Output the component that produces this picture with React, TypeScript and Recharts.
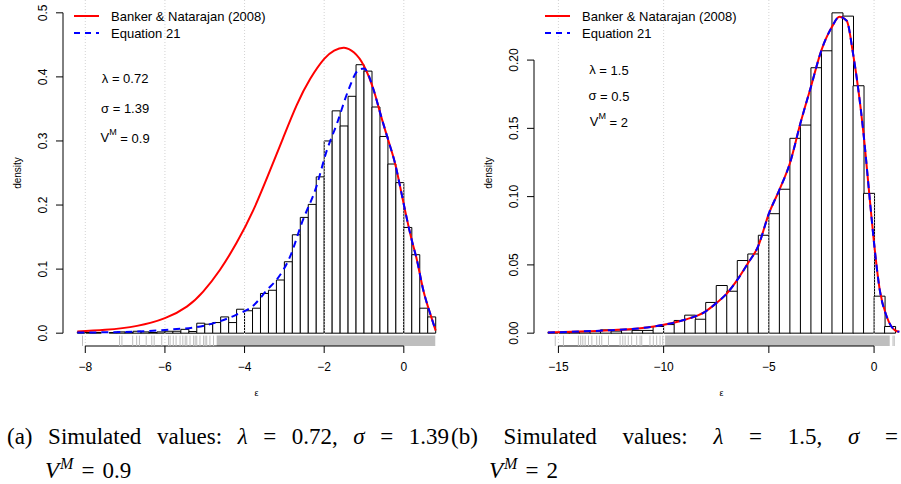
import React from 'react';
import {
  ComposedChart,
  Bar,
  Line,
  Scatter,
  XAxis,
  YAxis,
  CartesianGrid,
  ReferenceLine,
  ReferenceArea,
  ReferenceDot,
} from 'recharts';

const FONT = '"Liberation Sans", Arial, Helvetica, sans-serif';
const SERIF = '"Liberation Serif", "Times New Roman", serif';

// ---- panel (a): lambda 0.72, sigma 1.39, V^M 0.9 ----
const LEFT_BIN_MIDS = [
  -8.1, -7.9, -7.7, -7.5, -7.3, -7.1, -6.9, -6.7, -6.5, -6.3, -6.1, -5.9, -5.7,
  -5.5, -5.3, -5.1, -4.9, -4.7, -4.5, -4.3, -4.1, -3.9, -3.7, -3.5, -3.3, -3.1,
  -2.9, -2.7, -2.5, -2.3, -2.1, -1.9, -1.7, -1.5, -1.3, -1.1, -0.9, -0.7, -0.5,
  -0.3, -0.1, 0.1, 0.3, 0.5, 0.7,
];
const LEFT_DENSITY = [
  0.002, 0.001, 0.001, 0.0, 0.001, 0.002, 0.001, 0.003, 0.002, 0.001, 0.002, 0.003, 0.003,
  0.006, 0.0026, 0.0156, 0.014, 0.0166, 0.0254, 0.0166, 0.0374, 0.035,
  0.039, 0.062, 0.067, 0.083, 0.1115, 0.1536, 0.1807, 0.201, 0.244, 0.3,
  0.347, 0.3234, 0.3697, 0.419, 0.409, 0.353, 0.307, 0.264, 0.235, 0.165,
  0.1225, 0.039, 0.0254,
];
// Banker & Natarajan (2008)
const LEFT_RED_X = [
  -8.2, -7.5, -6.7, -6.0, -5.45, -5.04, -4.62, -4.2, -3.78, -3.36, -3.03, -2.69, -2.35,
  -2.0, -1.75, -1.5, -1.25, -1.0, -0.76, -0.6, -0.39, -0.22, -0.09, 0.03, 0.2, 0.33, 0.49, 0.66, 0.8,
];
const LEFT_RED_Y = [
  0.0026, 0.0052, 0.0114, 0.0234, 0.0415, 0.065, 0.0987, 0.141, 0.192, 0.254, 0.305, 0.356, 0.397,
  0.428, 0.441, 0.4455, 0.438, 0.417, 0.38, 0.345, 0.301, 0.265, 0.228, 0.192, 0.145, 0.114, 0.067, 0.031, 0.004,
];
// Equation 21
const LEFT_BLUE_X = [
  -8.2, -7.0, -6.0, -5.0, -4.2, -3.8, -3.4, -3.2, -2.86, -2.55, -2.2, -1.93, -1.68, -1.4,
  -1.15, -1.0, -0.76, -0.6, -0.39, -0.22, -0.09, 0.03, 0.2, 0.33, 0.49, 0.66, 0.8,
];
const LEFT_BLUE_Y = [
  0.001, 0.002, 0.005, 0.012, 0.029, 0.042, 0.07, 0.083, 0.119, 0.174, 0.228, 0.286, 0.327, 0.378,
  0.41, 0.413, 0.38, 0.345, 0.301, 0.265, 0.228, 0.192, 0.145, 0.114, 0.067, 0.031, 0.004,
];
const LEFT_RUG = [
  -8.07, -7.14, -7.08, -6.81, -6.71, -6.64, -6.47, -6.33, -6.27, -6.08, -5.91, -5.87, -5.79,
  -5.72, -5.62, -5.55, -5.49, -5.45, -5.37, -5.28, -5.24, -5.2, -5.12, -5.03, -4.99, -4.95,
  -4.87, -4.78,
];
const LEFT_RUG_DENSE = [-4.7, 0.79];
const LEFT_X_TICKS = [-8, -6, -4, -2, 0];
const LEFT_Y_TICKS = [0, 0.1, 0.2, 0.3, 0.4, 0.5];
const LEFT_Y_LABELS = ['0.0', '0.1', '0.2', '0.3', '0.4', '0.5'];
const LEFT_PARAMS = [
  { sym: 'λ', sup: '', val: '0.72', y: 0.398 },
  { sym: 'σ', sup: '', val: '1.39', y: 0.351 },
  { sym: 'V', sup: 'M', val: '0.9', y: 0.305 },
];

// ---- panel (b): lambda 1.5, sigma 0.5, V^M 2 ----
const RIGHT_BIN_MIDS = [
  -15.25, -14.75, -14.25, -13.75, -13.25, -12.75, -12.25, -11.75, -11.25, -10.75, -10.25,
  -9.75, -9.25, -8.75, -8.25, -7.75, -7.25, -6.75, -6.25, -5.75, -5.25, -4.75, -4.25,
  -3.75, -3.25, -2.75, -2.25, -1.75, -1.25, -0.75, -0.25, 0.25, 0.75,
];
const RIGHT_DENSITY = [
  0.0005, 0.0005, 0.0005, 0.001, 0.0012, 0.0024, 0.0015, 0.0024, 0.002, 0.002, 0.0049,
  0.0063, 0.0093, 0.0132, 0.0102, 0.0225, 0.0349, 0.0307, 0.0532, 0.058, 0.0717, 0.0875, 0.1054,
  0.1427, 0.1524, 0.1944, 0.2068, 0.2346, 0.2322, 0.1812, 0.1024, 0.0271, 0.0049,
];
const RIGHT_RED_X = [
  -15.5, -14, -12.5, -11, -10, -9, -8, -7.5, -7, -6.5, -6, -5.5, -5, -4.5, -4, -3.5, -3,
  -2.5, -2, -1.65, -1.3, -1, -0.5, -0.2, 0, 0.27, 0.6, 1.0, 1.2,
];
const RIGHT_RED_Y = [
  0.0005, 0.0012, 0.0022, 0.0038, 0.0061, 0.0098, 0.016, 0.022, 0.029, 0.039, 0.051, 0.064,
  0.0875, 0.105, 0.1244, 0.1537, 0.1805, 0.2073, 0.2244, 0.2317, 0.2288, 0.2049, 0.146,
  0.0975, 0.0659, 0.0317, 0.0122, 0.002, 0.001,
];
const RIGHT_BLUE_X = [
  -15.5, -14, -12.5, -11, -10, -9, -8, -7.5, -7, -6.5, -6, -5.5, -5, -4.5, -4, -3.5, -3,
  -2.5, -2, -1.65, -1.3, -1, -0.5, -0.2, 0, 0.27, 0.6, 1.0, 1.2,
];
const RIGHT_BLUE_Y = [
  0.0005, 0.0012, 0.0022, 0.0038, 0.0061, 0.0098, 0.016, 0.022, 0.029, 0.039, 0.051, 0.064,
  0.0875, 0.105, 0.1244, 0.1537, 0.1805, 0.2073, 0.2244, 0.2317, 0.2288, 0.2049, 0.146,
  0.0975, 0.0659, 0.0317, 0.0122, 0.002, 0.001,
];
const RIGHT_RUG = [
  -15.15, -14.76, -14.05, -13.94, -13.84, -13.73, -13.57, -13.41, -13.18, -13.05, -12.94,
  -12.62, -12.07, -11.94, -11.83, -11.68, -11.52, -11.28, -11.12, -11.04, -10.65, -10.49,
  -10.33, -10.17, -10.04, 0.9, 0.96,
];
const RIGHT_RUG_DENSE = [-9.93, 0.745];
const RIGHT_X_TICKS = [-15, -10, -5, 0];
const RIGHT_Y_TICKS = [0, 0.05, 0.1, 0.15, 0.2];
const RIGHT_Y_LABELS = ['0.00', '0.05', '0.10', '0.15', '0.20'];
const RIGHT_PARAMS = [
  { sym: 'λ', sup: '', val: '1.5', y: 0.193 },
  { sym: 'σ', sup: '', val: '0.5', y: 0.174 },
  { sym: 'V', sup: 'M', val: '2', y: 0.155 },
];

const LEGEND = ['Banker & Natarajan (2008)', 'Equation 21'];

// chart geometry
const H = 400;
const XH = 54;
const PLOT_H = H - XH;
const RUG_FRAC = 0.03;
const GRID = '#d3d3d3';
const RUG = '#bebebe';

const panels = [
  {
    key: 'a',
    left: 0,
    w: 460,
    yw: 63,
    mr: 10,
    xDomain: [-8.56, 1.16],
    yDomain: [-0.02, 0.52],
    mids: LEFT_BIN_MIDS,
    density: LEFT_DENSITY,
    redX: LEFT_RED_X,
    redY: LEFT_RED_Y,
    redCurve: 'natural',
    blueX: LEFT_BLUE_X,
    blueY: LEFT_BLUE_Y,
    rug: LEFT_RUG,
    rugDense: LEFT_RUG_DENSE,
    xTicks: LEFT_X_TICKS,
    yTicks: LEFT_Y_TICKS,
    yLabels: LEFT_Y_LABELS,
    params: LEFT_PARAMS,
    paramX: -7,
    legendX: 74,
    densityX: 17,
  },
  {
    key: 'b',
    left: 450,
    w: 460,
    yw: 84,
    mr: 1,
    xDomain: [-16.16, 1.66],
    yDomain: [-0.0094, 0.244],
    mids: RIGHT_BIN_MIDS,
    density: RIGHT_DENSITY,
    redX: RIGHT_RED_X,
    redY: RIGHT_RED_Y,
    redCurve: 'monotone',
    blueX: RIGHT_BLUE_X,
    blueY: RIGHT_BLUE_Y,
    rug: RIGHT_RUG,
    rugDense: RIGHT_RUG_DENSE,
    xTicks: RIGHT_X_TICKS,
    yTicks: RIGHT_Y_TICKS,
    yLabels: RIGHT_Y_LABELS,
    params: RIGHT_PARAMS,
    paramX: -12.6,
    legendX: 95,
    densityX: 38,
  },
];

const minus = (v: number) => (v < 0 ? '\u2212' + Math.abs(v) : String(v));

function XTick(props: any) {
  const { x, y, payload } = props;
  return (
    <g>
      <line x1={x} x2={x} y1={y} y2={y + 7} stroke="#000" />
      <text x={x} y={y + 21} textAnchor="middle" dominantBaseline="central" fontSize={12} fontFamily={FONT} fill="#000">
        {minus(payload.value)}
      </text>
    </g>
  );
}

function makeYTick(ticks: number[], labels: string[]) {
  return function YTick(props: any) {
    const { x, y, payload } = props;
    const i = ticks.findIndex((t) => Math.abs(t - payload.value) < 1e-9);
    return (
      <g>
        <line x1={x - 7} x2={x} y1={y} y2={y} stroke="#000" />
        <text
          transform={`translate(${x - 20},${y}) rotate(-90)`}
          textAnchor="middle"
          dominantBaseline="central"
          fontSize={12}
          fontFamily={FONT}
          fill="#000"
        >
          {labels[i] ?? payload.value}
        </text>
      </g>
    );
  };
}

function Panel({ cfg }: { cfg: any }) {
  const bars = cfg.mids.map((x: number, i: number) => ({ x, y: cfg.density[i] }));
  const red = cfg.redX.map((x: number, i: number) => ({ x, y: cfg.redY[i] }));
  const blue = cfg.blueX.map((x: number, i: number) => ({ x, y: cfg.blueY[i] }));
  const rugLo = cfg.yDomain[0];
  const rugHi = rugLo + RUG_FRAC * (cfg.yDomain[1] - cfg.yDomain[0]);
  const rug = cfg.rug.map((x: number) => ({ x, y: rugLo }));
  const rugPx = RUG_FRAC * PLOT_H;
  const YTick = makeYTick(cfg.yTicks, cfg.yLabels);
  const common = {
    width: cfg.w,
    height: H,
    margin: { top: 0, right: cfg.mr, left: 0, bottom: 0 },
  };
  const xAxisProps = {
    type: 'number' as const,
    dataKey: 'x',
    domain: cfg.xDomain,
    allowDataOverflow: true,
    ticks: cfg.xTicks,
    interval: 0 as const,
    height: XH,
    axisLine: false,
    tickLine: false,
    tickSize: 0,
    tickMargin: 0,
  };
  const yAxisProps = {
    type: 'number' as const,
    dataKey: 'y',
    domain: cfg.yDomain,
    allowDataOverflow: true,
    ticks: cfg.yTicks,
    interval: 0 as const,
    width: cfg.yw,
    axisLine: false,
    tickLine: false,
    tickSize: 0,
    tickMargin: 0,
  };
  const plotCx = cfg.yw + (cfg.w - cfg.mr - cfg.yw) / 2;

  return (
    <div style={{ position: 'absolute', left: cfg.left, top: 0, width: cfg.w, height: H }}>
      {/* back layer: horizontal grid + histogram */}
      <div style={{ position: 'absolute', left: 0, top: 0 }}>
        <ComposedChart {...common} data={bars} barCategoryGap={0} barGap={0}>
          <CartesianGrid vertical={false} horizontalValues={cfg.yTicks} stroke={GRID} strokeDasharray="1 2" />
          <XAxis {...xAxisProps} tick={false} />
          <YAxis {...yAxisProps} tick={false} />
          <Bar dataKey="y" fill="#fff" stroke="#000" strokeWidth={1} isAnimationActive={false} />
        </ComposedChart>
      </div>
      {/* front layer: vertical grid, rug, curves, axes */}
      <div style={{ position: 'absolute', left: 0, top: 0 }}>
        <ComposedChart {...common}>
          <CartesianGrid horizontal={false} verticalValues={cfg.xTicks} stroke={GRID} strokeDasharray="1 2" />
          <XAxis {...xAxisProps} tick={<XTick />} />
          <YAxis {...yAxisProps} tick={<YTick />} />
          <ReferenceArea
            x1={cfg.rugDense[0]}
            x2={cfg.rugDense[1]}
            y1={rugLo}
            y2={rugHi}
            fill={RUG}
            fillOpacity={1}
            stroke="none"
            ifOverflow="visible"
          />
          <Scatter
            data={rug}
            isAnimationActive={false}
            shape={(p: any) => (
              <line x1={p.cx} x2={p.cx} y1={p.cy} y2={p.cy - rugPx} stroke={RUG} strokeWidth={1} />
            )}
          />
          <Line data={red} dataKey="y" type={cfg.redCurve} stroke="#ff0000" strokeWidth={2} dot={false} isAnimationActive={false} />
          <Line
            data={blue}
            dataKey="y"
            type="monotone"
            stroke="#0000ff"
            strokeWidth={2}
            strokeDasharray="7 5"
            dot={false}
            isAnimationActive={false}
          />
          <ReferenceLine
            segment={[
              { x: cfg.xDomain[0], y: cfg.yTicks[0] },
              { x: cfg.xDomain[0], y: cfg.yTicks[cfg.yTicks.length - 1] },
            ]}
            stroke="#000"
            ifOverflow="visible"
          />
          <ReferenceLine
            segment={[
              { x: cfg.xTicks[0], y: cfg.yDomain[0] },
              { x: cfg.xTicks[cfg.xTicks.length - 1], y: cfg.yDomain[0] },
            ]}
            stroke="#000"
            ifOverflow="visible"
          />
          {cfg.params.map((p: any) => (
            <ReferenceDot
              key={p.sym}
              x={cfg.paramX}
              y={p.y}
              r={0}
              ifOverflow="visible"
              shape={(s: any) => (
                <text x={s.cx} y={s.cy} textAnchor="middle" dominantBaseline="central" fontSize={13} fontFamily={FONT} fill="#000">
                  {p.sym}
                  {p.sup ? (
                    <tspan dy={-6} fontSize={9}>
                      {p.sup}
                    </tspan>
                  ) : null}
                  <tspan dy={p.sup ? 6 : 0}>{' = ' + p.val}</tspan>
                </text>
              )}
            />
          ))}
        </ComposedChart>
      </div>
      {/* legend and axis titles */}
      <svg width={cfg.w} height={H} style={{ position: 'absolute', left: 0, top: 0, pointerEvents: 'none' }}>
        <line x1={cfg.legendX} x2={cfg.legendX + 25} y1={16} y2={16} stroke="#ff0000" strokeWidth={2} />
        <line x1={cfg.legendX} x2={cfg.legendX + 25} y1={33} y2={33} stroke="#0000ff" strokeWidth={2} strokeDasharray="6 5" />
        <text x={cfg.legendX + 37} y={16.5} dominantBaseline="central" fontSize={13} fontFamily={FONT} fill="#000">
          {LEGEND[0]}
        </text>
        <text x={cfg.legendX + 37} y={33.5} dominantBaseline="central" fontSize={13} fontFamily={FONT} fill="#000">
          {LEGEND[1]}
        </text>
        <text
          transform={`translate(${cfg.densityX},${PLOT_H / 2}) rotate(-90)`}
          textAnchor="middle"
          dominantBaseline="central"
          fontSize={10}
          fontFamily={FONT}
          fill="#000"
        >
          density
        </text>
        <text x={plotCx} y={393} textAnchor="middle" dominantBaseline="central" fontSize={9} fontFamily={FONT} fill="#000">
          ε
        </text>
      </svg>
    </div>
  );
}

const capLine: React.CSSProperties = {
  position: 'absolute',
  fontFamily: SERIF,
  fontSize: 23,
  lineHeight: '27px',
  color: '#000',
  whiteSpace: 'nowrap',
};

function VM({ val }: { val: string }) {
  return (
    <>
      <i>V</i>
      <sup style={{ fontSize: 16, verticalAlign: 9, marginLeft: 1 }}>
        <i>M</i>
      </sup>
      <span style={{ marginLeft: 8 }}>=</span>
      <span style={{ marginLeft: 8 }}>{val}</span>
    </>
  );
}

export default function App() {
  return (
    <div
      style={{
        position: 'fixed',
        left: 0,
        top: 0,
        width: 901,
        height: 484,
        overflow: 'hidden',
        background: '#fff',
      }}
    >
      {panels.map((cfg) => (
        <Panel key={cfg.key} cfg={cfg} />
      ))}
      <div style={{ ...capLine, left: 7, top: 423, width: 442, textAlign: 'justify', textAlignLast: 'justify', whiteSpace: 'normal' }}>
        (a) Simulated values: <i>λ</i> = 0.72, <i>σ</i> = 1.39
      </div>
      <div style={{ ...capLine, left: 45, top: 450 }}>
        <VM val="0.9" />
      </div>
      <div style={{ ...capLine, left: 451, top: 423, width: 447, textAlign: 'justify', textAlignLast: 'justify', whiteSpace: 'normal' }}>
        (b) Simulated values: <i>λ</i> = 1.5, <i>σ</i> =
      </div>
      <div style={{ ...capLine, left: 489, top: 450 }}>
        <VM val="2" />
      </div>
    </div>
  );
}
